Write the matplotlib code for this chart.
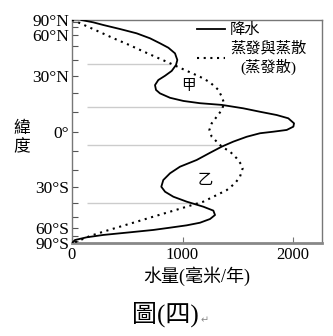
import numpy as np
import matplotlib
matplotlib.use("Agg")
import matplotlib.pyplot as plt
from matplotlib.lines import Line2D

plt.rcParams['font.family'] = ['Liberation Serif', 'Noto Sans CJK TC', 'DejaVu Sans']

# precipitation (solid) by latitude, mm/yr
precip_lat = [90, 78.2, 72.8, 66.8, 61.7, 56.7, 52.3, 48.7, 44.5, 39.9, 36.6, 32.9,
              30.0, 27.5, 24.6, 21.9, 20.0, 17.6, 15.9, 14.7, 13.8, 12.0, 10.2,
              8.5, 6.8, 4.2, 2.5, 0.8, -0.1, -0.9, -2.7, -5.2, -7.8, -11.0,
              -14.8, -18.4, -22.0, -25.8, -29.7, -32.7, -35.8, -39.0, -42.4,
              -45.2, -48.5, -51.7, -54.9, -57.3, -59.6, -62.0, -64.7, -68.1,
              -71.6, -76.7, -90]
precip_mm = [85, 193, 283, 434, 585, 706, 796, 872, 932, 953, 941, 902,
             842, 781, 751, 760, 796, 887, 1008, 1158, 1355, 1550, 1701,
             1852, 1957, 2009, 2003, 1943, 1822, 1701, 1581, 1460, 1355, 1249,
             1128, 977, 887, 826, 808, 842, 917, 1038, 1188,
             1279, 1294, 1249, 1158, 1038, 887, 736, 525, 283,
             133, 27, 0]

# evaporation + transpiration (dotted)
evap_lat = [90, 80, 70, 63.5, 56.7, 50.9, 47.0, 43.3, 38.8, 34.5, 29.4, 26.5,
            23.7, 21.9, 18.2, 14.7, 11.1, 7.6, 4.2, 0.8, -2.7, -5.2, -7.8,
            -10.4, -13.9, -17.5, -19.3, -23.9, -27.7, -31.7, -35.8, -39.0,
            -42.4, -46.0, -49.8, -54.0, -58.6, -64.0, -69.6, -81, -90]
evap_mm = [0, 42, 144, 245, 376, 518, 616, 718, 854, 988, 1158, 1240,
           1294, 1324, 1355, 1376, 1355, 1309, 1264, 1243, 1264, 1309, 1355,
           1430, 1490, 1535, 1544, 1520, 1475, 1400, 1279, 1188,
           1038, 887, 736, 585, 434, 283, 163, 42, 0]

# latitudes where the two curves cross, with the amount at the crossing
cross_lat = [37.3, 12.7, -7.0, -39.9]
cross_mm = [891, 1364, 1345, 1145]

yticks = [90, 60, 30, 0, -30, -60, -90]
ytick_labels = ['90°N', '60°N', '30°N', '0°', '30°S', '60°S', '90°S']
xticks = [0, 1000, 2000]


def fwd(lat):
    return np.sin(np.deg2rad(lat))


def inv(s):
    return np.rad2deg(np.arcsin(np.clip(s, -1, 1)))


fig = plt.figure(figsize=(3.33, 3.36), dpi=100)
ax = fig.add_axes([72 / 333, 1 - 243 / 336, 250 / 333, 223 / 336])
ax.set_yscale('function', functions=(fwd, inv))
ax.set_ylim(-90, 90)
ax.set_xlim(0, 2262)

ax.hlines(cross_lat, 136, cross_mm, color='#cccccc', lw=1.0, zorder=1)

ax.plot(precip_mm, precip_lat, color='black', lw=1.3, zorder=3)
ax.plot(evap_mm, evap_lat, color='black', lw=1.5, ls=(0, (1, 2.2)), zorder=3)

ax.text(1050, 24, '甲', fontsize=10.5, ha='center', va='center')
ax.text(1204, -25.8, '乙', fontsize=11, ha='center', va='center')

ax.set_yticks(yticks)
ax.set_yticklabels(ytick_labels, fontsize=12.5)
ax.set_yticks(np.arange(-80, 90, 10), minor=True)
ax.set_xticks(xticks)
ax.set_xticklabels([str(v) for v in xticks], fontsize=12)
ax.tick_params(axis='y', which='both', direction='in', length=4, width=0.8,
               color='#555555', pad=2)
ax.tick_params(axis='x', direction='in', length=4, width=0.8, color='#777777', pad=3)

for side in ['top', 'right', 'left']:
    ax.spines[side].set_color('#777777')
    ax.spines[side].set_linewidth(1.0)
ax.spines['bottom'].set_color('#888888')
ax.spines['bottom'].set_linewidth(2.0)

ax.set_xlabel('水量(毫米/年)', fontsize=13, labelpad=2)

handles = [Line2D([], [], color='black', lw=1.3),
           Line2D([], [], color='black', lw=1.5, ls=(0, (1, 2.2)))]
leg = ax.legend(handles, ['降水', '蒸發與蒸散\n(蒸發散)'], loc='upper left',
                bbox_to_anchor=(0.5, 0.985), frameon=False, fontsize=11,
                handlelength=1.8, handletextpad=0.35, borderpad=0,
                labelspacing=0.25, borderaxespad=0)
for t in leg.get_texts():
    t.set_multialignment('center')

fig.text(22 / 333, 1 - 138 / 336, '緯\n度', fontsize=12, ha='center', va='center',
         linespacing=1.15)
fig.text(165 / 333, 1 - 314 / 336, '圖(四)', fontsize=18, ha='center', va='center')
fig.text(205 / 333, 1 - 320 / 336, '↵', fontsize=7, color='#888888',
         ha='center', va='center', family='DejaVu Sans')

fig.savefig('out.png', dpi=100)
